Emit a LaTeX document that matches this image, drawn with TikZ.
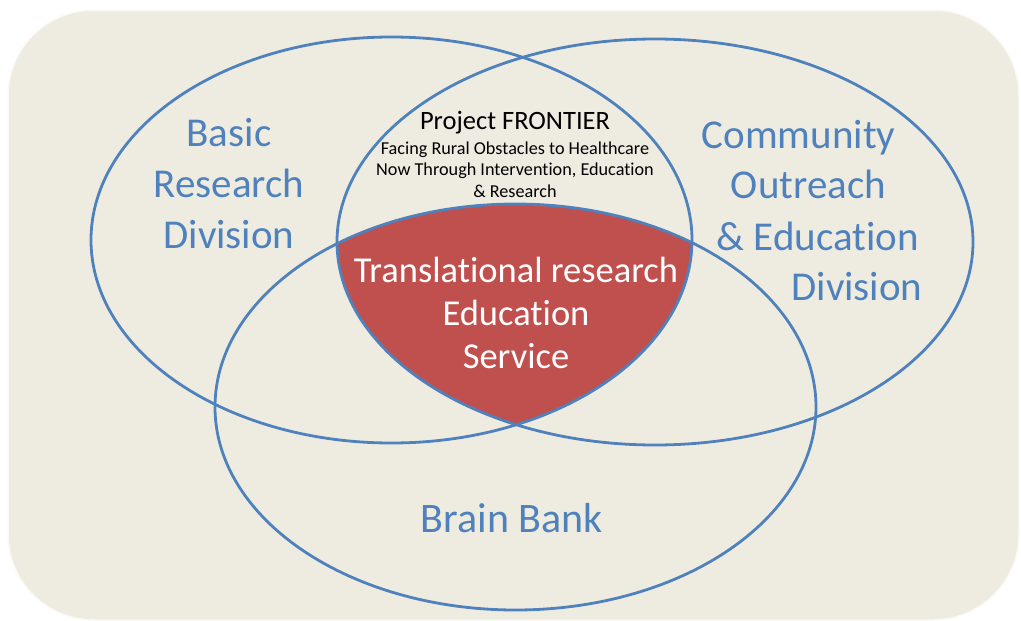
\documentclass[tikz,border=0pt]{standalone}
\usepackage{fontspec}
\setmainfont{Carlito}[Ligatures=NoCommon]
\definecolor{vennblue}{HTML}{4F81BD}
\definecolor{vennred}{HTML}{C0504D}
\definecolor{vennback}{HTML}{EEECE1}

\begin{document}
\begin{tikzpicture}[x=1pt,y=-1pt,
  ring/.style={draw=vennblue,line width=2.8pt},
  division/.style={text=vennblue,font=\fontsize{41}{51}\selectfont,align=center,anchor=base,inner sep=0pt},
  core/.style={text=white,font=\fontsize{36.5}{43}\selectfont,align=center,anchor=base,inner sep=0pt},
  project/.style={text=black,font=\fontsize{26.5}{30}\selectfont,anchor=base,inner sep=0pt},
  acronym/.style={text=black,font=\fontsize{18.2}{21.5}\selectfont,align=center,anchor=base,inner sep=0pt}]

\useasboundingbox (0,0) rectangle (1021,621);
\fill [vennback,draw=white!70!vennback,line width=1.5pt,rounded corners=86pt] (8,10) rectangle (1019,620);

\begin{scope}
\clip (391.5,240) ellipse [x radius=300.5,y radius=203];
\clip (655,242) ellipse [x radius=318,y radius=203];
\fill [vennred] (515.5,407) ellipse [x radius=300.5,y radius=203];
\end{scope}

\draw [ring] (391.5,240) ellipse [x radius=300.5,y radius=203];
\draw [ring] (655,242) ellipse [x radius=318,y radius=203];
\draw [ring] (515.5,407) ellipse [x radius=300.5,y radius=203];

\node (basic) at (229,248)[division] {Basic\\Research\\Division};
\node (comm) at (798.5,148)[division] {Community};
\node (outr) at (808.5,198)[division] {Outreach};
\node (educ) at (817.5,250)[division] {\& Education};
\node (divi) at (857,300)[division] {Division};
\node (brain) at (512,532)[division,font=\fontsize{42}{51}\selectfont] {Brain Bank};
\node (frontier) at (515,129)[project] {Project FRONTIER};
\node (facing) at (515,197)[acronym] {Facing Rural Obstacles to Healthcare\\Now Through Intervention, Education\\\& Research};
\node (trans) at (516,368)[core] {Translational research\\Education\\Service};
\end{tikzpicture}
\end{document}
